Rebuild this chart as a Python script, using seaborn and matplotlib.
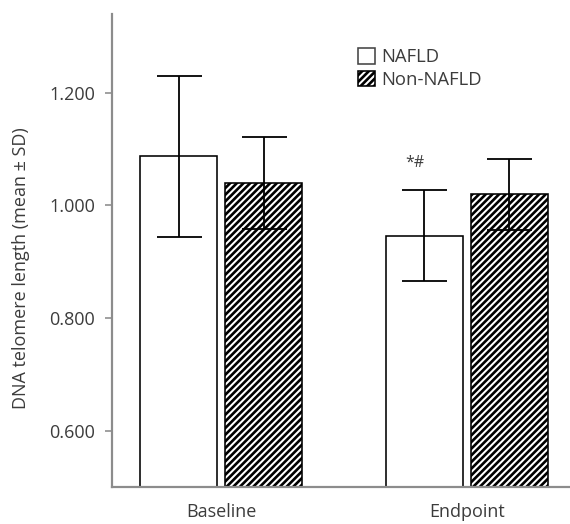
import numpy as np
import pandas as pd
import matplotlib
matplotlib.use("Agg")
import matplotlib.pyplot as plt
import seaborn as sns
from matplotlib.patches import Patch

# ---- data ----
groups = ["Baseline", "Endpoint"]
series = ["NAFLD", "Non-NAFLD"]
nafld_mean = [1.087, 0.946]
nafld_sd = [0.143, 0.081]
non_nafld_mean = [1.040, 1.020]
non_nafld_sd = [0.081, 0.063]
yticks = [0.6, 0.8, 1.0, 1.2]
ytick_labels = ["0.600", "0.800", "1.000", "1.200"]
annotation = "*#"
annotation_y = 1.075
ylabel = "DNA telomere length (mean \u00b1 SD)"

DPI = 120
PX = 72.0 / DPI  # points per pixel
HATCH = "//////"

sns.set_theme(style="white")
plt.rcParams["font.family"] = ["Open Sans", "DejaVu Sans"]
plt.rcParams["hatch.linewidth"] = 1.6
TXT = "#3c3c3c"
AXC = "#8c8c8c"

df = pd.DataFrame({
    "time": groups * 2,
    "group": [series[0]] * 2 + [series[1]] * 2,
    "mean": nafld_mean + non_nafld_mean,
    "sd": nafld_sd + non_nafld_sd,
})

fig = plt.figure(figsize=(570 / DPI, 524 / DPI), dpi=DPI)
ax = fig.add_axes([112 / 570, 37 / 524, 1 - 112 / 570, (487 - 14) / 524])

sns.barplot(data=df, x="time", y="mean", hue="group", order=groups, hue_order=series,
            palette={series[0]: "white", series[1]: "white"}, edgecolor="black",
            linewidth=1.6 * PX, width=0.694, gap=0.095, errorbar=None, legend=False, ax=ax)

sd_map = {series[0]: nafld_sd, series[1]: non_nafld_sd}
for cont, s in zip(ax.containers, series):
    xs, ys = [], []
    for bar in cont:
        if s == series[1]:
            bar.set_hatch(HATCH)
        xs.append(bar.get_x() + bar.get_width() / 2)
        ys.append(bar.get_height())
    ax.errorbar(xs, ys, yerr=sd_map[s], fmt="none", ecolor="black",
                elinewidth=1.8 * PX, capsize=22.5 * PX, capthick=1.8 * PX, zorder=5)

# annotation over endpoint NAFLD bar
b = ax.containers[0][1]
ax.text(b.get_x() + b.get_width() / 2 - 0.04, annotation_y, annotation,
        ha="center", va="center", fontsize=16 * PX, color=TXT)

ax.set_ylim(0.5, 1.34)
ax.set_xlim(-0.445, 1.42)
ax.set_yticks(yticks, ytick_labels)
ax.set_xlabel("")
ax.set_ylabel(ylabel, fontsize=18 * PX, color=TXT)
ax.yaxis.set_label_coords(-0.178, 0.462)

for sp in ["top", "right"]:
    ax.spines[sp].set_visible(False)
for sp in ["left", "bottom"]:
    ax.spines[sp].set_color(AXC)
    ax.spines[sp].set_linewidth(2.2 * PX)

ax.tick_params(axis="y", left=True, length=7 * PX, width=1.6 * PX, color=AXC,
               direction="out", labelsize=18 * PX, labelcolor=TXT, pad=10 * PX)
ax.tick_params(axis="x", bottom=False, labelsize=18 * PX, labelcolor=TXT, pad=6 * PX)

handles = [Patch(facecolor="white", edgecolor="#444444", linewidth=1.6 * PX),
           Patch(facecolor="white", edgecolor="black", linewidth=1.6 * PX, hatch=HATCH)]
fig.legend(handles, series, loc="upper left", bbox_to_anchor=(358 / 570, 1 - 48 / 524),
           frameon=False, handlelength=0.92, handleheight=0.92, handletextpad=0.35,
           labelspacing=0.25, fontsize=18.5 * PX, borderaxespad=0, borderpad=0,
           labelcolor=TXT)

fig.savefig("out.png", dpi=DPI)
